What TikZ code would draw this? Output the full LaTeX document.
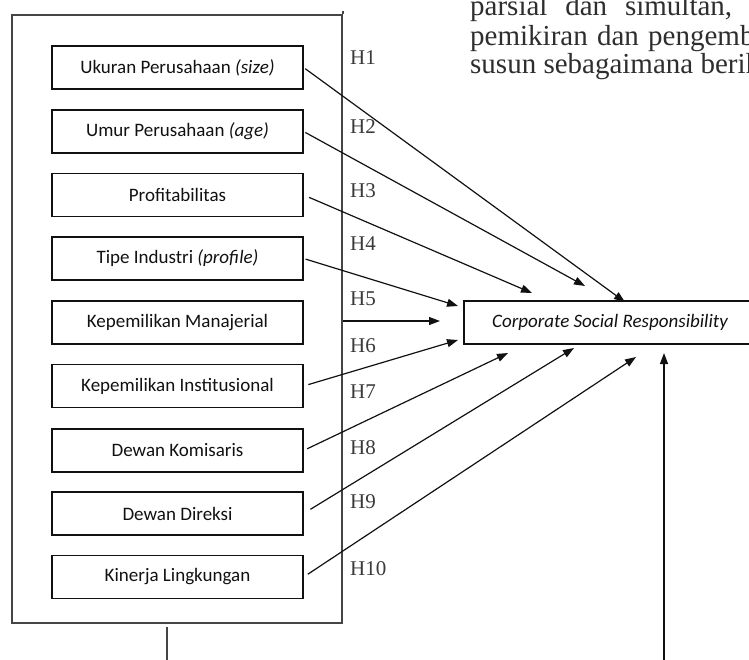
\documentclass[tikz,border=0pt]{standalone}
\usepackage{fontspec}
\setmainfont{Liberation Serif}
\newfontfamily\calibri{Carlito}
\usetikzlibrary{arrows.meta}
\definecolor{ink}{HTML}{111111}
\definecolor{frameline}{HTML}{454545}
\definecolor{bodytext}{HTML}{2E2E2E}
\definecolor{hlabel}{HTML}{3A3A3A}
\tikzset{
  var/.style={draw=ink, line width=1.2pt, minimum width=251pt, minimum height=43pt, inner sep=0pt, text=ink, font=\calibri\fontsize{19}{22}\selectfont},
  dep/.style={var, minimum width=292pt, font=\calibri\itshape\fontsize{19}{22}\selectfont},
  hyp/.style={text=hlabel, font=\fontsize{21}{24}\selectfont, anchor=west, inner sep=0pt},
  link/.style={draw=ink, line width=1.2pt, -{Triangle[length=11pt,width=8pt]}},
  para/.style={text=bodytext, font=\fontsize{29}{31}\selectfont, anchor=base west, inner sep=0pt},
}

\begin{document}
\begin{tikzpicture}[x=1pt,y=-1pt]
  \useasboundingbox (0,0) rectangle (749,659);
  \clip (0,0) rectangle (749,659);
  % body text of the page, cut by the picture
  \node[para] (baris1) at (470,15) {\hbox to 262pt{parsial\hfill dan\hfill simultan,}};
  \node[para] (baris2) at (470,45) {\hbox to 178pt{pemikiran\hfill dan\hfill}pengembangan};
  \node[para] (baris3) at (470,73) {susun sebagaimana berikut};
  % independent variables
  \node[draw=frameline, line width=1.5pt, minimum width=330pt, minimum height=608pt] (kerangka) at (177,319) {};
  \draw[draw=frameline, line width=1.5pt] (kerangka.north east) -- ++(0,-3);
  \node[var] (size)   at (177.5,67.5) {Ukuran Perusahaan \textit{(size)}};
  \node[var] (age)    at (177.5,131.5) {Umur Perusahaan \textit{(age)}};
  \node[var] (profit) at (177.5,195) {Profitabilitas};
  \node[var] (tipe)   at (177.5,258.5) {Tipe Industri \textit{(profile)}};
  \node[var] (kman)   at (177.5,322.5) {Kepemilikan Manajerial};
  \node[var] (kinst)  at (177.5,386) {Kepemilikan Institusional};
  \node[var] (dekom)  at (177.5,450.5) {Dewan Komisaris};
  \node[var] (direksi) at (177.5,513.5) {Dewan Direksi};
  \node[var] (kinerja) at (177.5,577) {Kinerja Lingkungan};
  % dependent variable
  \node[dep] (csr) at (610,322.5) {Corporate Social Responsibility};
  % hypotheses
  \node[hyp] (h1)  at (350,57.5) {H1};
  \node[hyp] (h2)  at (350,127) {H2};
  \node[hyp] (h3)  at (350,191) {H3};
  \node[hyp] (h4)  at (350,244) {H4};
  \node[hyp] (h5)  at (350,299) {H5};
  \node[hyp] (h6)  at (350,346) {H6};
  \node[hyp] (h7)  at (350,392) {H7};
  \node[hyp] (h8)  at (350,448) {H8};
  \node[hyp] (h9)  at (350,502) {H9};
  \node[hyp] (h10) at (350,569) {H10};
  % arrow ends near the CSR box
  \coordinate (t1) at (625,302);
  \coordinate (t2) at (585,286);
  \coordinate (t3) at (532,293);
  \coordinate (t4) at (458,306);
  \coordinate (t5) at (440,321);
  \coordinate (t6) at (458,340);
  \coordinate (t7) at (508,353);
  \coordinate (t8) at (574,348);
  \coordinate (t9) at (636,357);
  \coordinate (t10) at (664,353);
  \coordinate (bawah1) at (167,627);
  \coordinate (bawah2) at (664,670);
  \draw[link, shorten <=2pt] (size.east) -- (t1);
  \draw[link, shorten <=2pt] (age.east) -- (t2);
  \draw[link, shorten <=6pt] (profit.east) -- (t3);
  \draw[link, shorten <=2pt] (tipe.east) -- (t4);
  \draw[link] (kerangka.east |- t5) -- (t5);
  \draw[link, shorten <=5pt] (kinst.east) -- (t6);
  \draw[link, shorten <=4pt] (dekom.east) -- (t7);
  \draw[link, shorten <=8pt] (direksi.east) -- (t8);
  \draw[link, shorten <=5pt] (kinerja.east) -- (t9);
  \draw[link] (bawah2) -- (t10);
  \draw[draw=frameline, line width=1.5pt] (bawah1) -- ++(0,40);
\end{tikzpicture}
\end{document}
